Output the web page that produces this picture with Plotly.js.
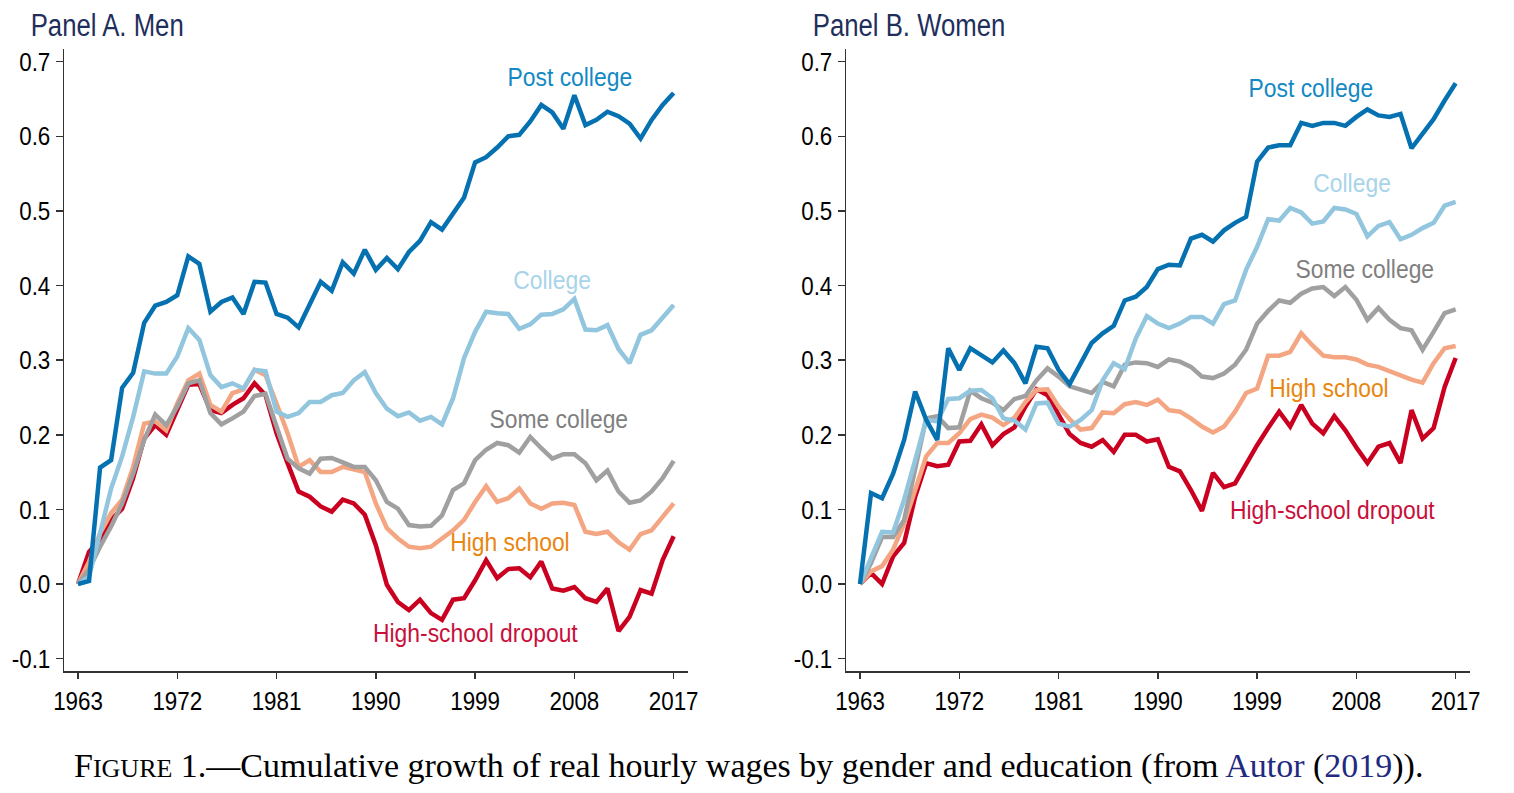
<!DOCTYPE html>
<html>
<head>
<meta charset="utf-8">
<script src="https://cdn.plot.ly/plotly-3.0.1.min.js"></script>
<style>
html,body{margin:0;padding:0;background:#fff;}
#chart{width:1514px;height:793px;}
</style>
</head>
<body>
<div id="chart"></div>
<script>
// ---- data ----
var years = [];
for (var yr = 1963; yr <= 2017; yr++) years.push(yr);

var tickYears = [1963, 1972, 1981, 1990, 1999, 2008, 2017];
var tickValsY = [-0.1, 0.0, 0.1, 0.2, 0.3, 0.4, 0.5, 0.6, 0.7];
var tickTextY = tickValsY.map(function (v) { return v.toFixed(1); });

var seriesNames = ["High-school dropout", "High school", "Some college", "College", "Post college"];

// Panel A. Men
var menDropout = [0,0.043,0.060,0.086,0.101,0.142,0.195,0.213,0.200,0.233,
  0.267,0.268,0.233,0.229,0.240,0.249,0.269,0.253,0.202,0.162,
  0.124,0.117,0.104,0.097,0.113,0.108,0.093,0.052,-0.001,-0.024,
  -0.035,-0.021,-0.039,-0.048,-0.021,-0.019,0.005,0.032,0.008,0.020,
  0.021,0.009,0.030,-0.006,-0.009,-0.004,-0.019,-0.024,-0.006,-0.063,
  -0.044,-0.008,-0.013,0.032,0.064];
var menHighSchool = [0,0.030,0.068,0.095,0.113,0.157,0.215,0.218,0.206,0.242,
  0.273,0.282,0.240,0.231,0.256,0.261,0.287,0.280,0.242,0.202,
  0.157,0.166,0.150,0.150,0.157,0.154,0.150,0.108,0.075,0.061,
  0.050,0.048,0.050,0.061,0.072,0.086,0.110,0.131,0.110,0.115,
  0.128,0.108,0.101,0.108,0.109,0.106,0.070,0.067,0.070,0.056,
  0.046,0.067,0.072,0.090,0.108];
var menSomeCollege = [0,0.020,0.050,0.077,0.108,0.148,0.193,0.227,0.213,0.238,
  0.269,0.273,0.229,0.214,0.222,0.231,0.252,0.255,0.211,0.168,
  0.155,0.148,0.168,0.169,0.163,0.157,0.157,0.139,0.110,0.101,
  0.079,0.077,0.078,0.092,0.126,0.135,0.166,0.180,0.189,0.186,
  0.176,0.197,0.182,0.168,0.174,0.174,0.162,0.139,0.152,0.124,
  0.109,0.112,0.124,0.142,0.165];
var menCollege = [0,0.010,0.068,0.128,0.171,0.224,0.285,0.282,0.282,0.305,
  0.343,0.327,0.280,0.264,0.269,0.262,0.287,0.285,0.231,0.224,
  0.229,0.244,0.244,0.253,0.256,0.273,0.284,0.256,0.235,0.225,
  0.230,0.219,0.224,0.214,0.249,0.303,0.338,0.365,0.363,0.362,
  0.342,0.348,0.361,0.362,0.368,0.382,0.341,0.340,0.347,0.315,
  0.296,0.334,0.340,0.358,0.374];
var menPostCollege = [0,0.004,0.156,0.166,0.263,0.283,0.350,0.373,0.378,0.387,
  0.439,0.429,0.365,0.378,0.384,0.362,0.405,0.404,0.362,0.357,
  0.344,0.376,0.405,0.393,0.431,0.416,0.448,0.421,0.437,0.422,
  0.445,0.460,0.485,0.475,0.497,0.518,0.565,0.572,0.585,0.600,
  0.602,0.620,0.642,0.632,0.610,0.655,0.615,0.622,0.633,0.627,
  0.617,0.597,0.622,0.642,0.658];

// Panel B. Women
var womDropout = [0,0.015,0.000,0.037,0.055,0.117,0.162,0.158,0.160,0.191,
  0.192,0.214,0.186,0.201,0.210,0.238,0.261,0.253,0.227,0.201,
  0.189,0.184,0.193,0.177,0.200,0.200,0.191,0.194,0.157,0.151,
  0.126,0.098,0.149,0.130,0.135,0.162,0.186,0.209,0.231,0.211,
  0.240,0.215,0.202,0.225,0.206,0.183,0.162,0.184,0.189,0.162,
  0.233,0.195,0.209,0.264,0.303];
var womHighSchool = [0,0.017,0.024,0.046,0.081,0.126,0.171,0.189,0.189,0.202,
  0.221,0.227,0.223,0.213,0.223,0.244,0.260,0.261,0.238,0.221,
  0.207,0.209,0.230,0.229,0.241,0.244,0.240,0.247,0.233,0.231,
  0.222,0.211,0.203,0.211,0.231,0.256,0.262,0.306,0.306,0.311,
  0.336,0.320,0.306,0.304,0.304,0.301,0.294,0.291,0.285,0.279,
  0.274,0.270,0.296,0.316,0.319];
var womSomeCollege = [0,0.028,0.063,0.063,0.086,0.153,0.222,0.225,0.209,0.210,
  0.259,0.249,0.243,0.233,0.248,0.252,0.273,0.289,0.278,0.265,
  0.261,0.256,0.271,0.265,0.294,0.297,0.296,0.291,0.301,0.298,
  0.291,0.278,0.276,0.282,0.294,0.314,0.349,0.366,0.380,0.377,
  0.389,0.396,0.398,0.386,0.398,0.381,0.354,0.370,0.354,0.343,
  0.340,0.314,0.338,0.363,0.368];
var womCollege = [0,0.035,0.070,0.069,0.113,0.166,0.220,0.218,0.248,0.249,
  0.259,0.260,0.249,0.222,0.219,0.207,0.242,0.243,0.215,0.211,
  0.220,0.233,0.273,0.296,0.288,0.329,0.359,0.349,0.343,0.349,
  0.358,0.358,0.349,0.375,0.380,0.421,0.452,0.489,0.487,0.504,
  0.498,0.483,0.486,0.504,0.502,0.496,0.466,0.480,0.485,0.462,
  0.468,0.477,0.484,0.507,0.512];
var womPostCollege = [0,0.122,0.115,0.148,0.193,0.258,0.220,0.193,0.316,0.287,
  0.316,0.307,0.297,0.313,0.296,0.269,0.318,0.316,0.287,0.268,
  0.296,0.323,0.336,0.346,0.380,0.385,0.398,0.422,0.428,0.427,
  0.463,0.468,0.459,0.474,0.484,0.492,0.566,0.585,0.588,0.588,
  0.618,0.614,0.618,0.618,0.614,0.626,0.636,0.628,0.626,0.630,
  0.584,0.603,0.623,0.648,0.671];

// ---- styles ----
var lineColors = ["#ca0020", "#f4a582", "#a0a0a0", "#92c5de", "#0571b0"];
var labelColors = ["#c8103a", "#e8860f", "#7f7f7f", "#a8d4ea", "#1289c4"];
var sansFamily = "'Liberation Sans', Arial, sans-serif";
var tickFont = {family: sansFamily, size: 26, color: "#000"};

var menSeries = [menDropout, menHighSchool, menSomeCollege, menCollege, menPostCollege];
var womSeries = [womDropout, womHighSchool, womSomeCollege, womCollege, womPostCollege];

var traces = [];
function addPanel(seriesList, xa, ya) {
  for (var i = 0; i < seriesList.length; i++) {
    traces.push({
      x: years, y: seriesList[i], type: "scatter", mode: "lines",
      name: seriesNames[i], xaxis: xa, yaxis: ya, showlegend: false,
      line: {color: lineColors[i], width: 4.5}, hoverinfo: "skip"
    });
  }
}
addPanel(menSeries, "x", "y");
addPanel(womSeries, "x2", "y2");

function xAxis(dom, anchor) {
  return {
    domain: dom, range: [1961.73, 2018.3], tickvals: tickYears, anchor: anchor,
    showgrid: false, zeroline: false, showline: true, linecolor: "#333", linewidth: 1.5,
    ticks: "outside", ticklen: 6, tickwidth: 1.5, tickcolor: "#333",
    tickfont: tickFont, fixedrange: true
  };
}
function yAxis(anchor) {
  return {
    domain: [0.1538, 0.9382], range: [-0.1166, 0.717],
    tickvals: tickValsY, ticktext: tickTextY, anchor: anchor,
    showgrid: false, zeroline: false, showline: true, linecolor: "#333", linewidth: 1.5,
    ticks: "outside", ticklen: 7, tickwidth: 1.5, tickcolor: "#333",
    tickfont: tickFont, fixedrange: true
  };
}

// label positions per series
var menLabelPos = [[1999.0, -0.066], [2002.2, 0.056], [2006.6, 0.221], [2006.0, 0.407], [2007.6, 0.680]];
var womLabelPos = [[2005.8, 0.099], [2005.5, 0.263], [2008.8, 0.422], [2007.6, 0.5375], [2003.9, 0.665]];

var annotations = [];
function addLabels(pos, xr, yr) {
  for (var i = 0; i < pos.length; i++) {
    annotations.push({
      xref: xr, yref: yr, x: pos[i][0], y: pos[i][1], text: seriesNames[i],
      showarrow: false, xanchor: "center", yanchor: "middle",
      font: {family: sansFamily, size: 26, color: labelColors[i]}
    });
  }
}
addLabels(menLabelPos, "x", "y");
addLabels(womLabelPos, "x2", "y2");

annotations.push({
  xref: "paper", yref: "paper", x: 107/1514, y: 1 - 25/793, xanchor: "center", yanchor: "middle",
  text: "Panel A. Men", showarrow: false,
  font: {family: sansFamily, size: 31, color: "#1f2f5c"}
});
annotations.push({
  xref: "paper", yref: "paper", x: 909/1514, y: 1 - 25/793, xanchor: "center", yanchor: "middle",
  text: "Panel B. Women", showarrow: false,
  font: {family: sansFamily, size: 31, color: "#1f2f5c"}
});
annotations.push({
  xref: "paper", yref: "paper", x: 748/1514, y: 1 - 766/793, xanchor: "center", yanchor: "middle",
  text: "F<span style='font-size:26px'>IGURE</span> 1.—Cumulative growth of real hourly wages by gender and education (from <span style='color:#1f2a80'>Autor</span> (<span style='color:#1f2a80'>2019</span>)).",
  showarrow: false,
  font: {family: "'Liberation Serif', 'Times New Roman', serif", size: 34, color: "#000"}
});

var layout = {
  width: 1514, height: 793,
  margin: {l: 0, r: 0, t: 0, b: 0},
  paper_bgcolor: "#fff", plot_bgcolor: "#fff",
  xaxis: xAxis([64/1514, 688/1514], "y"),
  yaxis: yAxis("x"),
  xaxis2: xAxis([846/1514, 1470/1514], "y2"),
  yaxis2: yAxis("x2"),
  annotations: annotations,
  showlegend: false
};

// Condense sans-serif texts horizontally (the original uses a narrow face)
function condense(el, factor) {
  var len = el.getComputedTextLength();
  if (len > 0) {
    el.setAttribute("textLength", (len * factor).toFixed(2));
    el.setAttribute("lengthAdjust", "spacingAndGlyphs");
  }
}

Plotly.newPlot("chart", traces, layout, {displayModeBar: false, staticPlot: true}).then(function (gd) {
  var ticks = gd.querySelectorAll(".xtick text, .ytick text, .x2tick text, .y2tick text");
  ticks.forEach(function (t) { condense(t, 0.86); });
  var ann = gd.querySelectorAll(".annotation-text");
  ann.forEach(function (t) {
    var txt = t.textContent || "";
    if (txt.indexOf("Cumulative") >= 0) return;
    if (txt.indexOf("Panel") === 0) condense(t, 0.83);
    else condense(t, 0.88);
  });
});
</script>
</body>
</html>
